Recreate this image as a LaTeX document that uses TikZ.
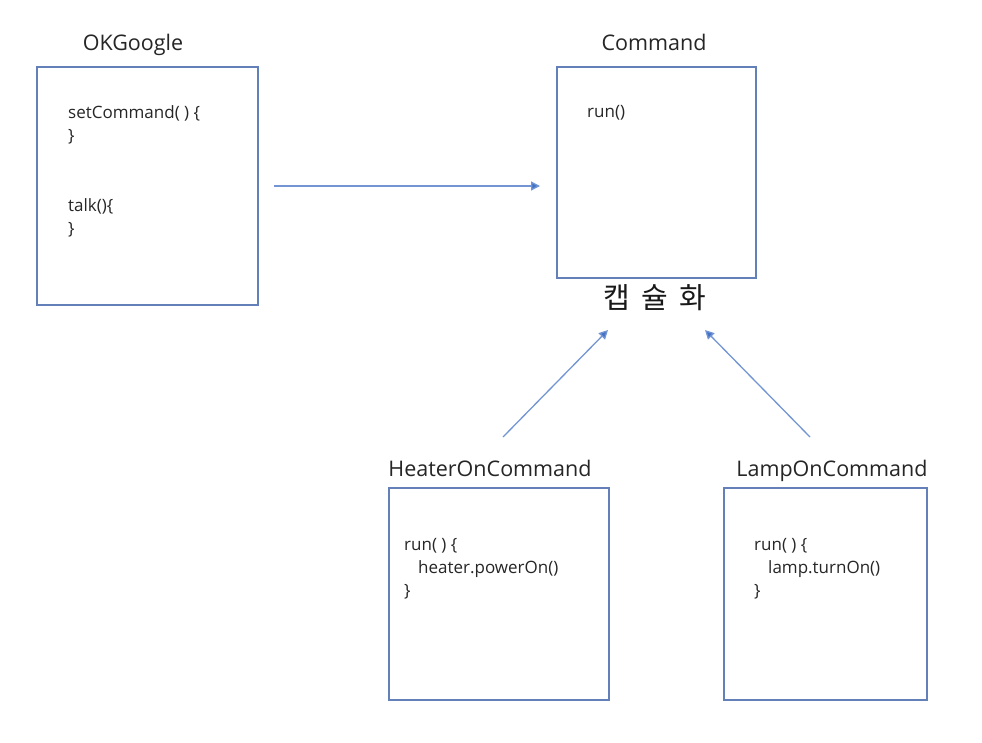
\documentclass[tikz,border=0pt]{standalone}
\usepackage{fontspec}
\setmainfont{Open Sans}
\newfontfamily\krfont{Noto Sans CJK KR}
\usetikzlibrary{arrows.meta}
\definecolor{boxc}{RGB}{100,128,185}
\definecolor{arrc}{RGB}{68,114,196}
\tikzset{
  classbox/.style={draw=boxc, line width=1.3pt},
  title/.style={font=\fontsize{21.5}{24}\selectfont, text=black!85, inner sep=0pt, anchor=base},
  code/.style={font=\fontsize{17}{23}\selectfont, text=black!85, inner sep=0pt, anchor=north west, align=left},
  conn/.style={draw=arrc!75, line width=1.3pt, -{Triangle[length=9pt,width=9pt,fill=arrc]}}
}
\begin{document}
\begin{tikzpicture}[x=1pt,y=-1pt]
\useasboundingbox[fill=white] (0,0) rectangle (982,742);
% boxes
\draw[classbox] (37,67) rectangle (258,305);
\draw[classbox] (557,67) rectangle (756,278);
\draw[classbox] (389,488) rectangle (609,700);
\draw[classbox] (724,488) rectangle (927,700);
% titles
\node[title] (tOK) at (133,50) {OKGoogle};
\node[title] (tCmd) at (654,50) {Command};
\node[title] (tHeat) at (490,476) {HeaterOnCommand};
\node[title] (tLamp) at (832,476) {LampOnCommand};
% code
\node[code] (cOK1) at (68,105) {setCommand( ) \{\\\}};
\node[code] (cOK2) at (68,198) {talk()\{\\\}};
\node[code] (cCmd) at (587,105) {run()};
\node[code] (cHeat) at (404,538) {run( ) \{\\\hspace{14pt}heater.powerOn()\\\}};
\node[code] (cLamp) at (754,538) {run( ) \{\\\hspace{14pt}lamp.turnOn()\\\}};
% encapsulation label
\node[font=\krfont\fontsize{29}{32}\selectfont, text=black!90, inner sep=0pt] (enc) at (655,298) {캡\hspace{11pt}슐\hspace{11pt}화};
% connectors
\coordinate (a1) at (274,186);
\coordinate (a2) at (540,186);
\coordinate (h1) at (503,437);
\coordinate (h2) at (608,330);
\coordinate (l1) at (810,437);
\coordinate (l2) at (705,330);
\draw[conn] (a1) -- (a2);
\draw[conn] (h1) -- (h2);
\draw[conn] (l1) -- (l2);
\end{tikzpicture}
\end{document}
